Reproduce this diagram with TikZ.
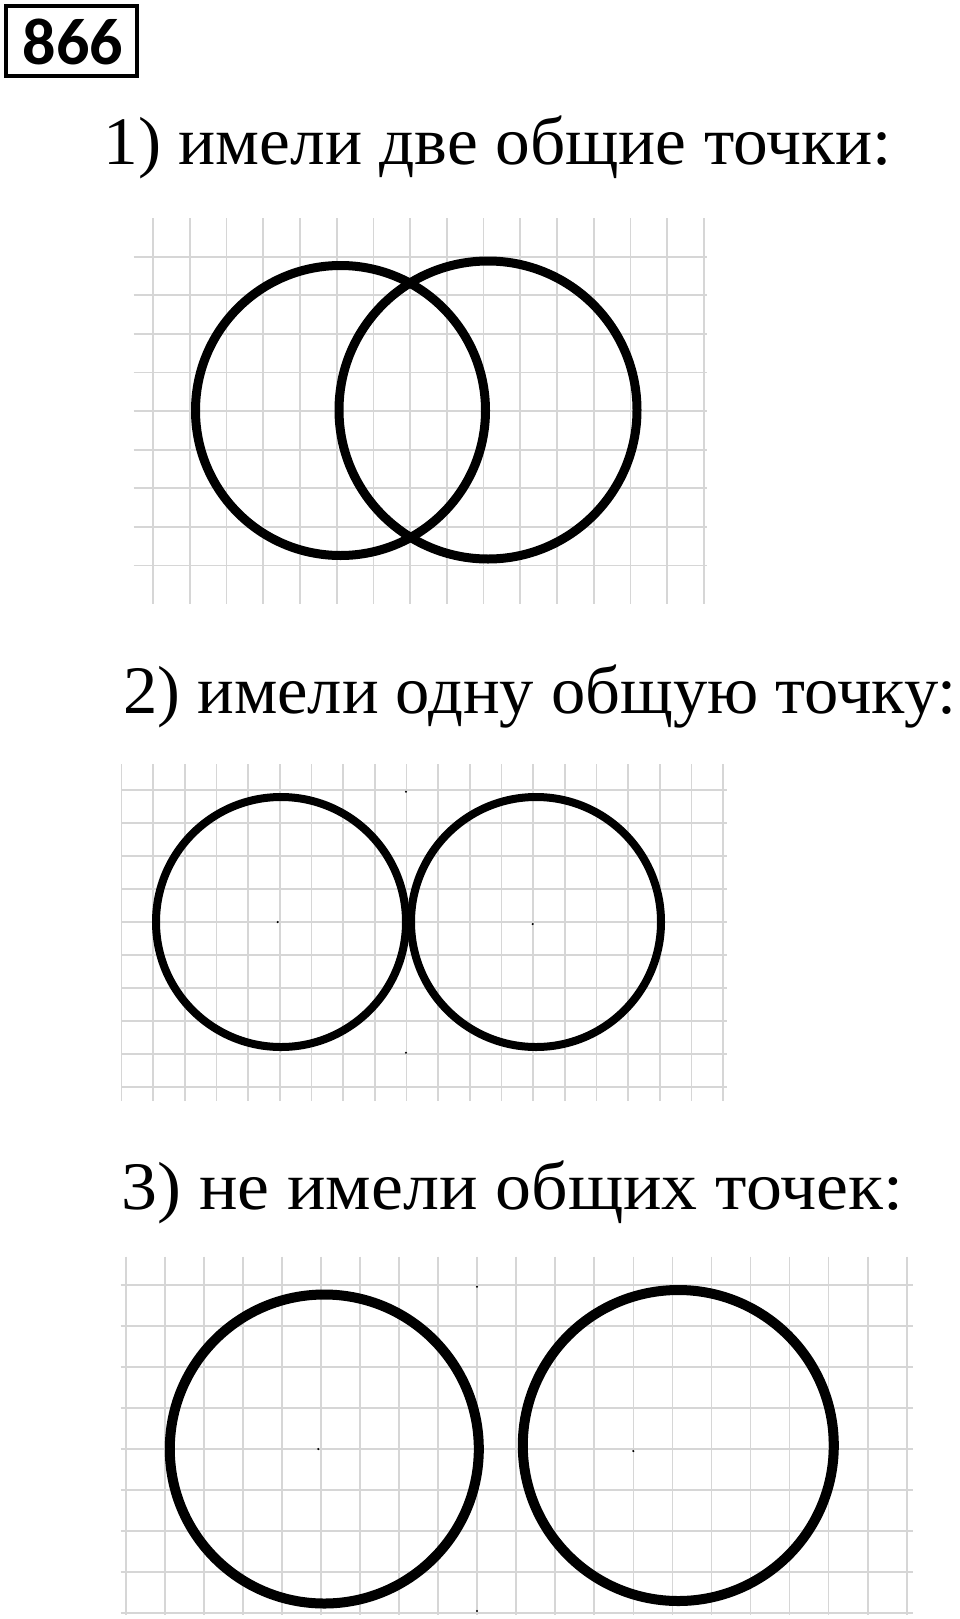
\documentclass[tikz,border=0pt]{standalone}
\usepackage{fontspec}
\usepackage{graphicx}
\setmainfont{Liberation Serif}
\newfontfamily\boxfont{Carlito}
\definecolor{gridgray}{RGB}{214,214,214}
\tikzset{
  gridline/.style={draw=gridgray, line width=1.7pt},
  ring/.style={draw=black},
  dotmark/.style={fill=black},
  tasktext/.style={inner sep=0pt, anchor=base west, font=\fontsize{68}{80}\selectfont},
}
\begin{document}
\begin{tikzpicture}[x=1pt, y=-1pt]
\useasboundingbox[fill=white] (0,0) rectangle (960,1619);

% title box
\node[draw, line width=4pt, minimum width=131pt, minimum height=70pt, inner sep=0pt] (numbox) at (71.5,41) {};
\node[inner sep=0pt, anchor=base, font=\boxfont\bfseries\fontsize{66}{70}\selectfont] (num) at (72.8,65) {866};

% labels
\node[tasktext] (t1) at (103.5,164) {\scalebox{1.02}[1]{1) имели две общие точки:}};
\node[tasktext] (t2) at (123,713) {\scalebox{1.008}[1]{2) имели одну общую точку:}};
\node[tasktext] (t3) at (121,1209) {\scalebox{1.057}[1]{3) не имели общих точек:}};

% grid 1
\foreach \i in {0,...,15} \draw[gridline] ({153+36.73*\i},218) -- ({153+36.73*\i},604);
\foreach \j in {0,...,8} \draw[gridline] (133.5,{256.7+38.6*\j}) -- (707,{256.7+38.6*\j});
\draw[ring, line width=9pt] (340.5,410.5) circle[radius=145];
\draw[ring, line width=9pt] (488,410) circle[radius=149];

% grid 2
\foreach \i in {0,...,19} \draw[gridline] ({121.5+31.67*\i},764) -- ({121.5+31.67*\i},1101);
\foreach \j in {0,...,9} \draw[gridline] (121.5,{790+33.03*\j}) -- (727,{790+33.03*\j});
\draw[ring, line width=8pt] (281,922) circle[radius=125];
\draw[ring, line width=8pt] (536,922) circle[radius=125];
\fill[dotmark] (406,791.7) circle[radius=1.2];
\fill[dotmark] (406,1052.7) circle[radius=1.2];
\fill[dotmark] (277.7,922) circle[radius=1.2];
\fill[dotmark] (532.7,924) circle[radius=1.2];

% grid 3
\foreach \i in {0,...,20} \draw[gridline] ({125.7+39.05*\i},1256.7) -- ({125.7+39.05*\i},1615);
\foreach \j in {0,...,8} \draw[gridline] (120.7,{1285+41.04*\j}) -- (913,{1285+41.04*\j});
\draw[ring, line width=10pt] (324.3,1449) circle[radius=154.5];
\draw[ring, line width=10pt] (678.3,1445.5) circle[radius=155.5];
\fill[dotmark] (318.3,1449) circle[radius=1.2];
\fill[dotmark] (477,1286.7) circle[radius=1.2];
\fill[dotmark] (477,1611) circle[radius=1.2];
\fill[dotmark] (633.3,1451) circle[radius=1.2];
\end{tikzpicture}
\end{document}
